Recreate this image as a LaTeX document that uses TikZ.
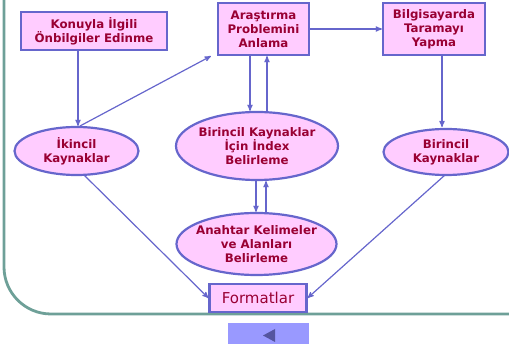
\documentclass[tikz,border=0pt]{standalone}
\usepackage{fontspec}
\setmainfont{DejaVu Sans}
\usepackage{tikz}
\usetikzlibrary{arrows,shapes.geometric,positioning}

\definecolor{kenar}{RGB}{102,102,204}
\definecolor{dolgu}{RGB}{255,204,255}
\definecolor{yazi}{RGB}{153,0,51}
\definecolor{cerceve}{RGB}{110,160,152}
\definecolor{dugme}{RGB}{153,153,255}
\definecolor{ucgen}{RGB}{85,85,160}

\begin{document}
\begin{tikzpicture}[x=1pt, y=-1pt, >=stealth', semithick,
    kutu/.style={draw=kenar, fill=dolgu, line width=2.2pt, text=yazi, align=center,
                 font=\fontsize{11.8}{14}\selectfont\bfseries, inner sep=2pt},
    elips/.style={ellipse, draw=kenar, fill=dolgu, line width=2.2pt, text=yazi, align=center,
                  font=\fontsize{11.8}{14}\selectfont\bfseries, inner sep=-20pt},
    ok/.style={->, color=kenar, line width=1.2pt}]
    \useasboundingbox (0,0) rectangle (509,344);

    % cerceve ve dugme
    \draw[cerceve, line width=2.8pt, rounded corners=47pt] (4,-5) -- (4,314) -- (515,314);
    \fill[dugme] (228,323) rectangle (309,344);
    \fill[ucgen] (263,335.5) -- (275,329) -- (275,342) -- cycle;

    \node[kutu, minimum width=146pt, minimum height=38pt] (konu)  at (94,31)    {Konuyla İlgili\\Önbilgiler Edinme};
    \node[kutu, minimum width=91pt,  minimum height=52pt] (arast) at (263.5,29) {Araştırma\\Problemini\\Anlama};
    \node[kutu, minimum width=102pt, minimum height=52pt] (bilg)  at (434,29)   {Bilgisayarda\\Taramayı\\Yapma};
    \node[elips, minimum width=124pt, minimum height=48pt] (ikin) at (76.5,151) {İkincil\\Kaynaklar};
    \node[elips, minimum width=162pt, minimum height=68pt] (index) at (257,146) {Birincil Kaynaklar\\İçin İndex\\Belirleme};
    \node[elips, minimum width=125pt, minimum height=46pt] (birin) at (446,152) {Birincil\\Kaynaklar};
    \node[elips, minimum width=160pt, minimum height=62pt] (anah) at (256.5,244) {Anahtar Kelimeler\\ve Alanları\\Belirleme};
    \node[kutu, minimum width=97pt, minimum height=28pt, font=\fontsize{15}{16}\selectfont] (form) at (258,298) {Formatlar};

    \path[ok] (konu.south -| 78,0)   edge (ikin.north -| 78,0)
              (80,126)               edge ([xshift=-6pt]arast.south west)
              (arast.south -| 250,0) edge (index.north -| 250,0)
              (index.north -| 267,0) edge (arast.south -| 267,0)
              (arast.east)           edge (bilg.west)
              (bilg.south -| 442,0)  edge (442,127)
              (index.south -| 256,0) edge (anah.north -| 256,0)
              (anah.north -| 266,0)  edge (index.south -| 266,0)
              (84,175)               edge (form.west)
              (445,175)              edge (form.east);
\end{tikzpicture}
\end{document}
